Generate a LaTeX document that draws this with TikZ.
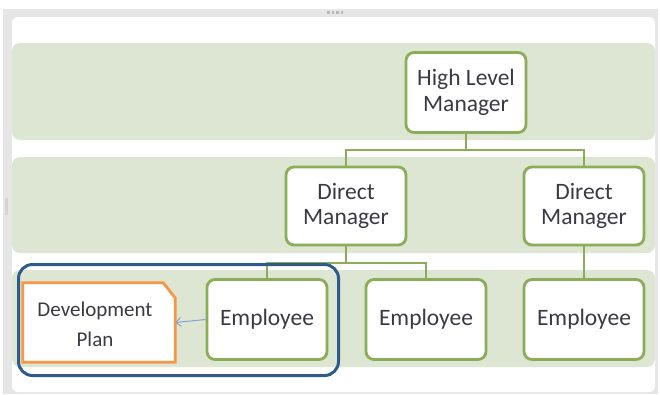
\documentclass[tikz,border=0pt]{standalone}
\usepackage{fontspec}
\setmainfont{Carlito}
\usetikzlibrary{arrows.meta}
\definecolor{framegray}{HTML}{E6E6E6}
\definecolor{gripgray}{HTML}{B8B8B8}
\definecolor{band}{HTML}{DDE6D3}
\definecolor{gline}{HTML}{8CAD58}
\definecolor{orangeline}{HTML}{F79646}
\definecolor{blueline}{HTML}{2F5A8C}
\definecolor{arrowblue}{HTML}{7FA6C8}
\definecolor{txt}{HTML}{3A3A44}
\tikzset{
  gbox/.style={draw=gline, line width=2.8pt, fill=white, rounded corners=8pt,
    minimum width=120pt, minimum height=78pt, align=center, text=txt,
    font=\fontsize{23.5}{25.5}\selectfont, inner sep=0pt},
  conn/.style={draw=gline, line width=2.8pt},
  bandfill/.style={fill=band, rounded corners=8pt},
  dpshape/.style={draw=orangeline, line width=2.8pt, fill=white},
  dptext/.style={text=txt, align=center, font=\fontsize{21}{30}\selectfont, inner sep=0pt},
  hl/.style={draw=blueline, line width=3pt, rounded corners=14pt},
  arr/.style={draw=arrowblue, line width=1pt, -{Straight Barb[length=5pt,width=9pt]}}
}
\begin{document}
\begin{tikzpicture}[x=1pt,y=-1pt]
\useasboundingbox (0,0) rectangle (660,394);
% window frame
\fill[framegray] (3,9) rectangle (658,394);
\fill[white, rounded corners=6pt] (12,17) rectangle (655,392);
\foreach \i in {0,1,2,3} \fill[gripgray] (327+\i*4.5,11) rectangle ++(2.5,2.5);
\fill[gripgray!60] (5,198) rectangle (8,215);
% bands
\fill[bandfill] (12,43) rectangle (655,140);
\fill[bandfill] (12,157) rectangle (655,253);
\fill[bandfill] (12,270) rectangle (655,367);
% nodes
\node[gbox, minimum height=80pt] (hlm) at (466,92.5) {High Level\\Manager};
\node[gbox] (dm1) at (346,206) {Direct\\Manager};
\node[gbox] (dm2) at (584,206) {Direct\\Manager};
\node[gbox, minimum height=80pt] (e1) at (267,319.5) {Employee};
\node[gbox, minimum height=80pt] (e2) at (426,319.5) {Employee};
\node[gbox, minimum height=80pt] (e3) at (584,319.5) {Employee};
% development plan
\node[minimum width=152pt, minimum height=79pt, inner sep=0pt] (dp) at (99,322.5) {};
\draw[dpshape] (dp.north west) -- ([xshift=-12pt]dp.north east) -- ([yshift=-15pt]dp.north east)
  -- (dp.south east) -- (dp.south west) -- cycle;
\node[dptext] (dpt) at (95,324) {Development\\Plan};
% connectors
\coordinate (j1) at (466,150);
\coordinate (j2) at (346,263);
\draw[conn] (hlm.south) -- (j1) -| (dm1.north);
\draw[conn] (j1) -| (dm2.north);
\draw[conn] (dm1.south) -- (j2) -| (e1.north);
\draw[conn] (j2) -| (e2.north);
\draw[conn] (dm2.south) -- (e3.north);
\draw[arr] (e1.west) -- (dp.east);
% highlight
\draw[hl] (18.5,264.5) rectangle (338.5,375.5);
\end{tikzpicture}
\end{document}
